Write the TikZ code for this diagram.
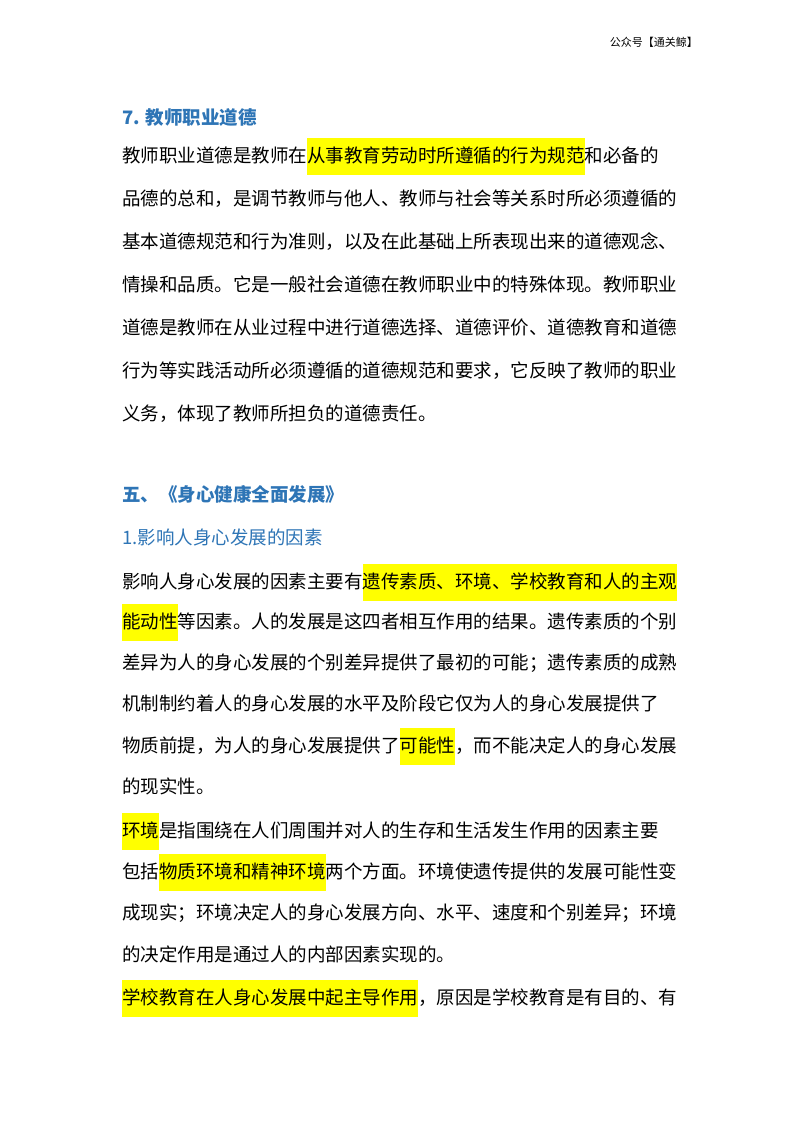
\documentclass[tikz,border=0pt]{standalone}
\usepackage{fontspec}
\setmainfont{Noto Sans CJK SC}
\XeTeXlinebreaklocale "zh"
\XeTeXlinebreakskip=0pt plus 2pt
\definecolor{hly}{HTML}{FFFF00}
\definecolor{ttl}{HTML}{2E75B6}
\newcommand\mystrut{\rule[-12pt]{0pt}{37pt}}
\newcommand\hlt[1]{{\setlength\fboxsep{0pt}\colorbox{hly}{\mystrut#1}}}
\newcommand\jl[1]{\hbox to 558pt{\mystrut#1}}
\begin{document}
\begin{tikzpicture}[x=1pt,y=1pt,
  ln/.style={anchor=west,inner sep=0pt,font=\fontsize{18.5pt}{20pt}\selectfont},
  hd/.style={anchor=west,inner sep=0pt,text=ttl,font=\fontsize{18.5pt}{20pt}\selectfont\bfseries},
  sub/.style={anchor=west,inner sep=0pt,text=ttl,font=\fontsize{18.5pt}{20pt}\selectfont}]
\useasboundingbox[fill=white] (0,0) rectangle (800,-1132);
\node[anchor=east,inner sep=0pt,font=\fontsize{11pt}{12pt}\selectfont] (hdr) at (698,-42) {公众号【通关鲸】};
\node[hd] (t1) at (122,-117) {7. 教师职业道德};
\node[ln] (a1) at (122,-156) {\jl{教师职业道德是教师在\hlt{从事教育劳动时所遵循的行为规范}和必备的}};
\node[ln] (a2) at (122,-199) {\jl{品德的总和，是调节教师与他人、教师与社会等关系时所必须遵循的}};
\node[ln] (a3) at (122,-242) {\jl{基本道德规范和行为准则，以及在此基础上所表现出来的道德观念、}};
\node[ln] (a4) at (122,-285) {\jl{情操和品质。它是一般社会道德在教师职业中的特殊体现。教师职业}};
\node[ln] (a5) at (122,-328) {\jl{道德是教师在从业过程中进行道德选择、道德评价、道德教育和道德}};
\node[ln] (a6) at (122,-371) {\jl{行为等实践活动所必须遵循的道德规范和要求，它反映了教师的职业}};
\node[ln] (a7) at (122,-414) {\mystrut 义务，体现了教师所担负的道德责任。};
\node[hd] (t2) at (122,-494) {五、《身心健康全面发展》};
\node[sub] (t3) at (122,-538) {1.影响人身心发展的因素};
\node[ln] (b1) at (122,-582) {\jl{影响人身心发展的因素主要有\hlt{遗传素质、环境、学校教育和人的主观}}};
\node[ln] (b2) at (122,-622) {\jl{\hlt{能动性}等因素。人的发展是这四者相互作用的结果。遗传素质的个别}};
\node[ln] (b3) at (122,-663) {\jl{差异为人的身心发展的个别差异提供了最初的可能；遗传素质的成熟}};
\node[ln] (b4) at (122,-704) {\jl{机制制约着人的身心发展的水平及阶段它仅为人的身心发展提供了}};
\node[ln] (b5) at (122,-746) {\jl{物质前提，为人的身心发展提供了\hlt{可能性}，而不能决定人的身心发展}};
\node[ln] (b6) at (122,-787) {\mystrut 的现实性。};
\node[ln] (c1) at (122,-831) {\jl{\hlt{环境}是指围绕在人们周围并对人的生存和生活发生作用的因素主要}};
\node[ln] (c2) at (122,-872) {\jl{包括\hlt{物质环境和精神环境}两个方面。环境使遗传提供的发展可能性变}};
\node[ln] (c3) at (122,-913) {\jl{成现实；环境决定人的身心发展方向、水平、速度和个别差异；环境}};
\node[ln] (c4) at (122,-955) {\mystrut 的决定作用是通过人的内部因素实现的。};
\node[ln] (d1) at (122,-998) {\jl{\hlt{学校教育在人身心发展中起主导作用}，原因是学校教育是有目的、有}};
\end{tikzpicture}
\end{document}
